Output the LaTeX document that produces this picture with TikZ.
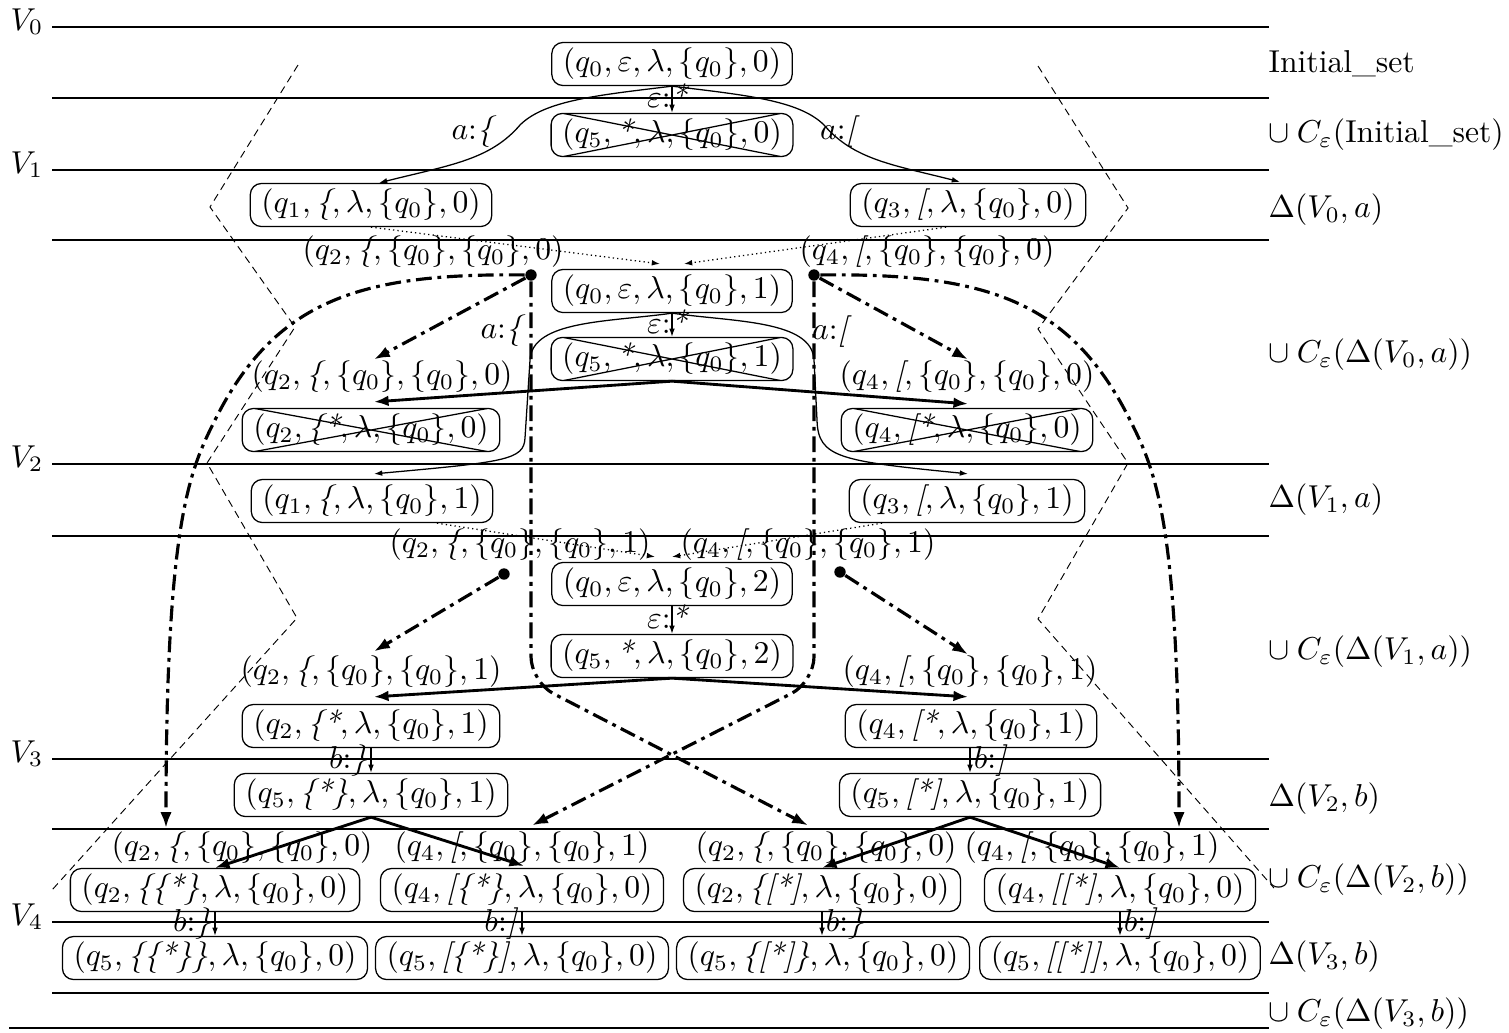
\documentclass[tikz,border=0pt]{standalone}
\usetikzlibrary{arrows.meta,calc}

\tikzset{
  state/.style={draw, line width=0.4pt, rounded corners=3.5pt, inner xsep=3.5pt, inner ysep=1.8pt},
  crossed/.style={state, path picture={
      \draw[line width=0.4pt, sharp corners]
        ([xshift=4pt]path picture bounding box.north west) -- ([xshift=-4pt]path picture bounding box.south east)
        ([xshift=4pt]path picture bounding box.south west) -- ([xshift=-4pt]path picture bounding box.north east);}},
  conf/.style={inner sep=1pt},
  level/.style={line width=0.9pt},
  sublevel/.style={line width=0.4pt},
  zig/.style={line width=0.3pt, dash pattern=on 2.4pt off 1.6pt},
  dot/.style={circle, fill, inner sep=0pt, minimum size=3.6pt},
  eps/.style={line width=0.4pt, -{Latex[length=2.6pt,width=1.8pt]}},
  link/.style={line width=0.4pt, densely dotted, -{Latex[length=2.6pt,width=1.8pt]}},
  push/.style={line width=0.9pt, -{Latex[length=4.6pt,width=3.4pt]}},
  jump/.style={line width=1pt, dash pattern=on 5pt off 1.8pt on 1.2pt off 1.8pt, -{Latex[length=5pt,width=3.6pt]}},
  tag/.style={inner sep=1pt},
}

\begin{document}
\begin{tikzpicture}[x=0.316pt, y=-0.316pt]
\useasboundingbox (0,0) rectangle (1509,1032);

% Levels
\foreach \y in {27,170,464,759,922} \draw[level] (52,\y) -- (1269,\y);
\foreach \y in {98,240,536,829,993} \draw[sublevel] (52,\y) -- (1269,\y);
\draw[level] (9,1028) -- (1269,1028);
\foreach \i/\y in {0/27,1/170,2/464,3/759,4/922}
  \node[anchor=base east, inner sep=0pt] (v\i) at (44,\y+3) {$V_{\i}$};

% Set names
\foreach \y/\t [count=\k] in {
  64/{Initial\_set},
  135/{$\cup\:C_\varepsilon(\mbox{Initial\_set})$},
  210/{$\Delta(V_0, a)$},
  355/{$\cup\:C_\varepsilon(\Delta(V_0, a))$},
  500/{$\Delta(V_1, a)$},
  652/{$\cup\:C_\varepsilon(\Delta(V_1, a))$},
  799/{$\Delta(V_2, b)$},
  880/{$\cup\:C_\varepsilon(\Delta(V_2, b))$},
  957/{$\Delta(V_3, b)$},
  1014/{$\cup\:C_\varepsilon(\Delta(V_3, b))$}}
  \node[anchor=west, inner sep=0pt] (r\k) at (1268,\y) {\t};

% Cones
\draw[zig] (298,65) -- (210,207) -- (295,327) -- (207,463) -- (297,618) -- (52,890);
\draw[zig] (1038,66) -- (1128,208) -- (1038,329) -- (1128,463) -- (1038,619) -- (1274,888);

% Initial set
\node[state] (n00) at (672,64) {$(q_0, \varepsilon, \lambda, \{q_0\}, 0)$};
\node[crossed] (x00) at (672,135) {$(q_5, \textit{*}, \lambda, \{q_0\}, 0)$};
\draw[eps] (n00.south) -- node[tag, xshift=-1.2pt, yshift=1.2pt] (e0) {$\varepsilon$:\textit{*}} (x00.north);

% Delta(V0,a)
\node[state] (q1a) at (371,205) {$(q_1, \textit{\{}, \lambda, \{q_0\}, 0)$};
\node[state] (q3a) at (968,205) {$(q_3, \textit{[}, \lambda, \{q_0\}, 0)$};
\draw[eps] (n00.south) .. controls (600,95) and (545,100) .. (520,125)
  .. controls (490,160) and (450,165) .. ($(q1a.north)+(8,0)$);
\draw[eps] (n00.south) .. controls (744,95) and (799,100) .. (824,125)
  .. controls (854,160) and (894,165) .. ($(q3a.north)+(-8,-1)$);
\node[tag] (a0) at (474,132) {$a$:\textit{\{}};
\node[tag] (a1) at (840,132) {$a$:\textit{[}};

% Closure of Delta(V0,a)
\node[conf] (t2a) at (433,252) {$(q_2, \textit{\{}, \{q_0\}, \{q_0\}, 0)$};
\node[conf] (t4a) at (927,252) {$(q_4, \textit{[}, \{q_0\}, \{q_0\}, 0)$};
\node[state] (n01) at (672,291) {$(q_0, \varepsilon, \lambda, \{q_0\}, 1)$};
\node[crossed] (x01) at (672,359) {$(q_5, \textit{*}, \lambda, \{q_0\}, 1)$};
\draw[link] (q1a.south) -- ($(n01.north)+(-12,-5)$);
\draw[link] ($(q3a.south)+(-22,0)$) -- ($(n01.north)+(12,-5)$);
\draw[eps] (n01.south) -- node[tag, xshift=-1.2pt, yshift=1.2pt] (e1) {$\varepsilon$:\textit{*}} (x01.north);
\node[conf] (t2b) at (382,377) {$(q_2, \textit{\{}, \{q_0\}, \{q_0\}, 0)$};
\node[conf] (t4b) at (967,377) {$(q_4, \textit{[}, \{q_0\}, \{q_0\}, 0)$};
\node[crossed] (x2a) at (371,430) {$(q_2, \textit{\{*}, \lambda, \{q_0\}, 0)$};
\node[crossed] (x4a) at (967,430) {$(q_4, \textit{[*}, \lambda, \{q_0\}, 0)$};
\draw[push] (x01.south) -- ($(x2a.north)+(3,-6)$);
\draw[push] (x01.south) -- ($(x4a.north)+(1,-4)$);

% Delta(V1,a)
\node[state] (q1b) at (372,501) {$(q_1, \textit{\{}, \lambda, \{q_0\}, 1)$};
\node[state] (q3b) at (967,501) {$(q_3, \textit{[}, \lambda, \{q_0\}, 1)$};
\draw[eps] (n01.south) .. controls (610,322) and (532,320) .. (530,360) -- (525,438)
  .. controls (524,460) and (505,462) .. ($(q1b.north)+(2,-5)$);
\draw[eps] (n01.south) .. controls (734,322) and (812,320) .. (814,360) -- (817,420)
  .. controls (818,458) and (840,461) .. ($(q3b.north)+(1,-5)$);
\node[tag] (a2) at (503,331) {$a$:\textit{\{}};
\node[tag] (a3) at (832,332) {$a$:\textit{[}};

% Closure of Delta(V1,a)
\node[conf] (t2c) at (520,545) {$(q_2, \textit{\{}, \{q_0\}, \{q_0\}, 1)$};
\node[conf] (t4c) at (808,545) {$(q_4, \textit{[}, \{q_0\}, \{q_0\}, 1)$};
\node[state] (n02) at (672,584) {$(q_0, \varepsilon, \lambda, \{q_0\}, 2)$};
\node[state] (n52) at (672,656) {$(q_5, \textit{*}, \lambda, \{q_0\}, 2)$};
\draw[link] ($(q1b.south)+(65,0)$) -- ($(n02.north)+(-17,-5)$);
\draw[link] ($(q3b.south)+(-85,0)$) -- ($(n02.north)+(0,-5)$);
\draw[eps] (n02.south) -- node[tag, xshift=-1.2pt, yshift=1.2pt] (e2) {$\varepsilon$:\textit{*}} (n52.north);
\node[conf] (t2d) at (371,672) {$(q_2, \textit{\{}, \{q_0\}, \{q_0\}, 1)$};
\node[conf] (t4d) at (970,672) {$(q_4, \textit{[}, \{q_0\}, \{q_0\}, 1)$};
\node[state] (s2) at (371,726) {$(q_2, \textit{\{*}, \lambda, \{q_0\}, 1)$};
\node[state] (s4) at (971,726) {$(q_4, \textit{[*}, \lambda, \{q_0\}, 1)$};
\draw[push] (n52.south) -- ($(s2.north)+(3,-7)$);
\draw[push] (n52.south) -- ($(s4.north)+(-3,-7)$);

% Delta(V2,b)
\node[state] (s5a) at (371,795) {$(q_5, \textit{\{*\}}, \lambda, \{q_0\}, 1)$};
\node[state] (s5b) at (970,795) {$(q_5, \textit{[*]}, \lambda, \{q_0\}, 1)$};
\draw[eps] (s2.south) -- node[tag, left] (b0) {$b$:\textit{\}}} (s2.south |- s5a.north);
\draw[eps] (s5b.north |- s4.south) -- node[tag, right] (b1) {$b$:\textit{]}} (s5b.north);

% Closure of Delta(V2,b)
\node[conf] (t2e) at (242,848) {$(q_2, \textit{\{}, \{q_0\}, \{q_0\}, 0)$};
\node[conf] (t4e) at (522,848) {$(q_4, \textit{[}, \{q_0\}, \{q_0\}, 1)$};
\node[conf] (t2f) at (826,848) {$(q_2, \textit{\{}, \{q_0\}, \{q_0\}, 0)$};
\node[conf] (t4f) at (1092,848) {$(q_4, \textit{[}, \{q_0\}, \{q_0\}, 1)$};
\node[state] (u1) at (215,890) {$(q_2, \textit{\{\{*\}}, \lambda, \{q_0\}, 0)$};
\node[state] (u2) at (522,890) {$(q_4, \textit{[\{*\}}, \lambda, \{q_0\}, 0)$};
\node[state] (u3) at (822,890) {$(q_2, \textit{\{[*]}, \lambda, \{q_0\}, 0)$};
\node[state] (u4) at (1120,890) {$(q_4, \textit{[[*]}, \lambda, \{q_0\}, 0)$};
\draw[push] (s5a.south) -- (u1.north);
\draw[push] (s5a.south) -- ($(u2.north)+(2,-2)$);
\draw[push] (s5b.south) -- (u3.north);
\draw[push] (s5b.south) -- (u4.north);

% Delta(V3,b)
\node[state] (w1) at (215,958) {$(q_5, \textit{\{\{*\}\}}, \lambda, \{q_0\}, 0)$};
\node[state] (w2) at (522,958) {$(q_5, \textit{[\{*\}]}, \lambda, \{q_0\}, 0)$};
\node[state] (w3) at (823,958) {$(q_5, \textit{\{[*]\}}, \lambda, \{q_0\}, 0)$};
\node[state] (w4) at (1120,958) {$(q_5, \textit{[[*]]}, \lambda, \{q_0\}, 0)$};
\draw[eps] (u1.south) -- node[tag, left] (b2) {$b$:\textit{\}}} (u1.south |- w1.north);
\draw[eps] (u2.south) -- node[tag, left] (b3) {$b$:\textit{]}} (u2.south |- w2.north);
\draw[eps] (u3.south) -- node[tag, right] (b4) {$b$:\textit{\}}} (u3.south |- w3.north);
\draw[eps] (u4.south) -- node[tag, right] (b5) {$b$:\textit{]}} (u4.south |- w4.north);

% Markers and jumps
\node[dot] (d1) at (531,275) {};
\node[dot] (d2) at (814,275) {};
\node[dot] (d3) at (504,574) {};
\node[dot] (d4) at (840,572) {};
\coordinate (eL) at (166,828);
\coordinate (eR) at (1179,828);
\coordinate (kL) at (531,682);
\coordinate (kR) at (814,682);
\draw[jump] (d1) -- ($(t2b.north)+(-8,2)$);
\draw[jump] (d2) -- ($(t4b.north)+(1,2)$);
\draw[jump] (d1) .. controls (360,273) and (275,300) .. (215,420)
  .. controls (190,470) and (166,520) .. (eL);
\draw[jump] (d2) .. controls (985,273) and (1070,300) .. (1130,420)
  .. controls (1155,470) and (1179,520) .. (eR);
\draw[jump, rounded corners=8pt] (d1) -- (kL) -- ($(t2f.north)+(-18,-3)$);
\draw[jump, rounded corners=8pt] (d2) -- (kR) -- ($(t4e.north)+(10,-3)$);
\draw[jump] (d3) -- ($(t2d.north)+(3,-1)$);
\draw[jump] (d4) -- ($(t4d.north)+(-2,2)$);
\end{tikzpicture}
\end{document}
